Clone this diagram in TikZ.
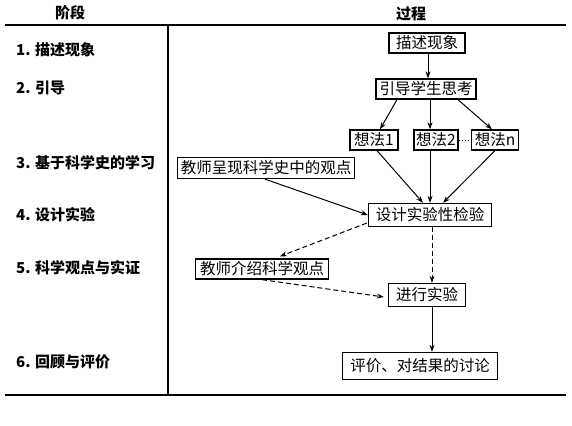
\documentclass[tikz,border=0pt]{standalone}
\usepackage{fontspec}
\newfontfamily\cjk{Noto Sans CJK SC}
\usetikzlibrary{arrows.meta,calc}
\begin{document}
\begin{tikzpicture}[x=1pt,y=-1pt,
  box/.style={draw,line width=1.3pt,inner sep=2pt,font=\cjk\fontsize{15.5}{17}\selectfont,minimum height=20pt},
  lab/.style={anchor=west,inner sep=0pt,font=\cjk\bfseries\fontsize{15}{17}\selectfont},
  head/.style={inner sep=0pt,font=\cjk\bfseries\fontsize{15}{17}\selectfont},
  arr/.style={-{Stealth[length=7pt,width=5pt]},line width=1pt},
  dasharr/.style={arr,dash pattern=on 5pt off 3pt},
  rule/.style={line width=1.4pt}]
\useasboundingbox (0,0) rectangle (572,425);
% table frame
\coordinate (tl) at (5,25);
\coordinate (tr) at (566,25);
\coordinate (bl) at (5,395);
\coordinate (br) at (566,395);
\coordinate (vt) at (168,25);
\coordinate (vb) at (168,395);
\draw[rule] (tl) -- (tr);
\draw[rule] (bl) -- (br);
\draw[rule] (vt) -- (vb);
% headers
\node[head] (hstage) at (70,13) {阶段};
\node[head] (hproc) at (411,14) {过程};
% left labels
\node[lab] (s1) at (16,50) {1. 描述现象};
\node[lab] (s2) at (16,88) {2. 引导};
\node[lab] (s3) at (16,163) {3. 基于科学史的学习};
\node[lab] (s4) at (16,215) {4. 设计实验};
\node[lab] (s5) at (16,268) {5. 科学观点与实证};
\node[lab] (s6) at (16,362) {6. 回顾与评价};
% boxes
\node[box,minimum width=76pt] (d1) at (427,43) {描述现象};
\node[box,minimum width=100pt] (d2) at (426,89) {引导学生思考};
\node[box,minimum width=48pt] (i1) at (374,140) {想法1};
\node[box,minimum width=44pt] (i2) at (436,140) {想法2};
\node[box,minimum width=47pt] (in) at (495,140) {想法n};
\node[box,minimum width=177pt,minimum height=21pt] (h1) at (266,168) {教师呈现科学史中的观点};
\node[box,minimum width=123pt,minimum height=23pt] (e) at (430,215) {设计实验性检验};
\node[box,minimum width=133pt] (h2) at (262,269) {教师介绍科学观点};
\node[box,minimum width=77pt,minimum height=23pt] (r) at (427,295) {进行实验};
\node[box,minimum width=155pt,minimum height=27pt] (v) at (420,366) {评价、对结果的讨论};
% connectors
\draw[arr] ($(d1.south)+(1,0)$) -- ($(d2.north)+(2,0)$);
\draw[arr] ($(d2.south)+(-29,0)$) -- ($(i1.north)+(6,0)$);
\draw[arr] ($(d2.south)+(4,0)$) -- ($(i2.north)+(-6,0)$);
\draw[arr] ($(d2.south)+(32,0)$) -- ($(in.north)+(-3,0)$);
\draw[line width=1pt,dotted] (i2.east) -- (in.west);
\draw[arr] ($(i1.south)+(3,0)$) -- ($(e.north)+(-7,0)$);
\draw[arr] ($(i2.south)+(-6,0)$) -- (e.north);
\draw[arr] (in.south) -- ($(e.north)+(13,0)$);
\draw[arr] ($(h1.south)+(-1,0)$) -- (e.west);
\draw[dasharr] ($(e.west)+(-1,8)$) -- ($(h2.north)+(18,-2)$);
\draw[dasharr] ($(e.south)+(2,0)$) -- ($(r.north)+(5,0)$);
\draw[dasharr] (h2.south) -- ($(r.west)+(-4,2)$);
\draw[arr] ($(r.south)+(5,0)$) -- ($(v.north)+(12,0)$);
\end{tikzpicture}
\end{document}
